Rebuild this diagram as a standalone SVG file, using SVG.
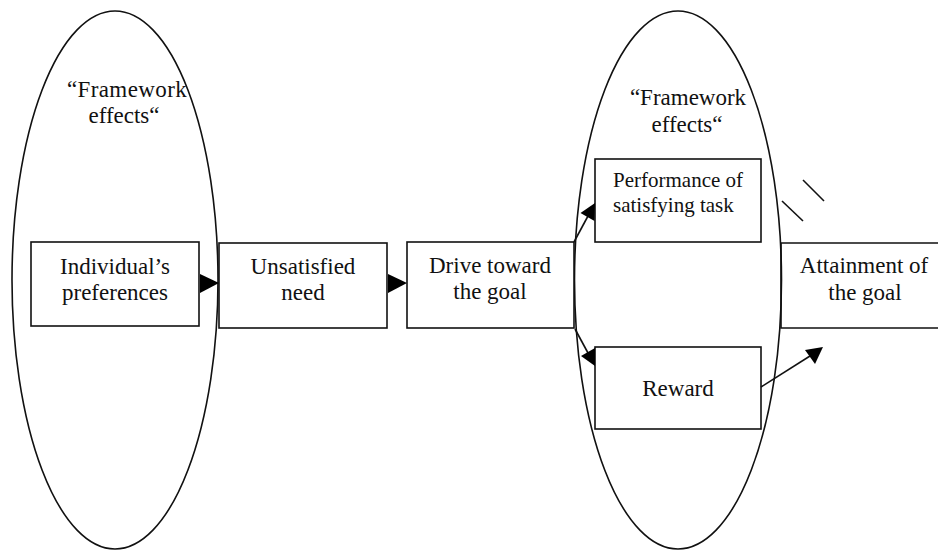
<svg xmlns="http://www.w3.org/2000/svg" width="938" height="552" viewBox="0 0 938 552">
<style>
  .shape { fill: none; stroke: #111; stroke-width: 1.6; }
  .box { fill: #fff; stroke: #111; stroke-width: 1.6; }
  .line { fill: none; stroke: #111; stroke-width: 1.6; }
  .head { fill: #000; stroke: none; }
  .t { font-family: "Liberation Serif", "Times New Roman", serif; font-size: 23px; fill: #111; }
  .c { text-anchor: middle; }
</style>
<rect width="938" height="552" fill="#fff"/>
<g id="framework-left">
  <ellipse class="shape" cx="115" cy="280" rx="103" ry="269"/>
  <text class="t c" x="127" y="97" letter-spacing="0.4">“Framework</text>
  <text class="t c" x="124" y="123">effects“</text>
</g>
<g id="framework-right">
  <ellipse class="shape" cx="678" cy="280" rx="103.5" ry="269"/>
  <text class="t c" x="688" y="105">“Framework</text>
  <text class="t c" x="687" y="132">effects“</text>
</g>
<g id="individual">
  <rect class="box" x="31" y="242" width="168" height="84"/>
  <text class="t c" x="115" y="274">Individual’s</text>
  <text class="t c" x="115" y="300">preferences</text>
</g>
<g id="unsatisfied">
  <rect class="box" x="219" y="243" width="168" height="85"/>
  <text class="t c" x="303" y="274">Unsatisfied</text>
  <text class="t c" x="303" y="300">need</text>
</g>
<g id="drive">
  <rect class="box" x="407" y="242" width="167" height="86"/>
  <text class="t c" x="490" y="273">Drive toward</text>
  <text class="t c" x="490" y="299">the goal</text>
</g>
<g id="performance">
  <rect class="box" x="595" y="159" width="166" height="83"/>
  <text class="t" x="613" y="187" style="font-size:21px">Performance of</text>
  <text class="t" x="613" y="212" style="font-size:21px">satisfying task</text>
</g>
<g id="reward">
  <rect class="box" x="595" y="347" width="166" height="82"/>
  <text class="t c" x="678" y="396">Reward</text>
</g>
<g id="attainment">
  <path class="line" d="M950,243 H781 V328 H950"/>
  <text class="t c" x="864" y="273">Attainment of</text>
  <text class="t c" x="865" y="300">the goal</text>
</g>
<g id="connectors">
  <polygon class="head" points="219,283 200,274 200,293"/>
  <polygon class="head" points="407,283 388,274 388,293"/>
  <line class="line" x1="574" y1="242" x2="588" y2="216"/>
  <polygon class="head" points="595,203 594.5,221 580.5,213"/>
  <line class="line" x1="575" y1="329" x2="588" y2="353"/>
  <polygon class="head" points="595,366 595,348 581,356"/>
  <line class="line" x1="761" y1="387" x2="810" y2="356"/>
  <polygon class="head" points="823,347 805,350 815,364"/>
  <line class="line" x1="803" y1="180" x2="824" y2="201"/>
  <line class="line" x1="782" y1="201" x2="803" y2="221"/>
</g>
</svg>
